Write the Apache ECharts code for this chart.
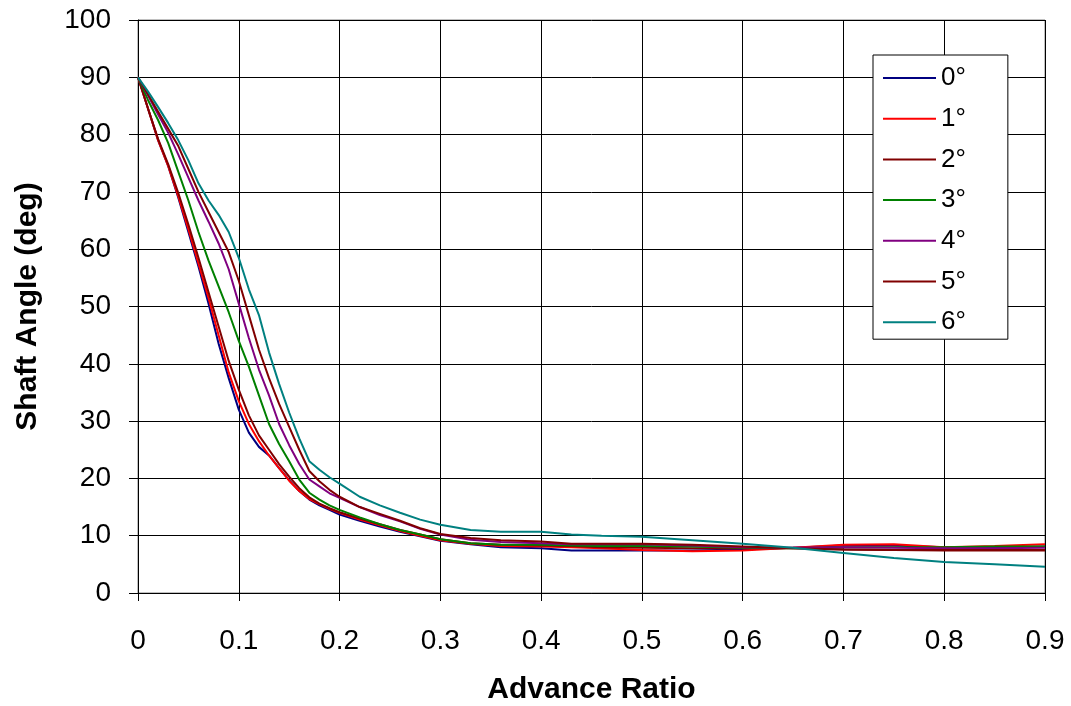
<!DOCTYPE html>
<html>
<head>
<meta charset="utf-8">
<script src="https://cdn.jsdelivr.net/npm/echarts@6/dist/echarts.min.js"></script>
<style>
  html, body { margin: 0; padding: 0; background: #fff; }
  #chart { width: 1071px; height: 706px; }
</style>
</head>
<body>
<div id="chart"></div>
<script>
// Advance ratio sample points shared by every curve
const advanceRatio = [
  0, 0.01, 0.02, 0.03, 0.04, 0.05, 0.06, 0.07, 0.08, 0.09, 0.10,
  0.11, 0.12, 0.13, 0.14, 0.15, 0.16, 0.17, 0.18, 0.19, 0.20,
  0.22, 0.24, 0.26, 0.28, 0.30, 0.33, 0.36, 0.40, 0.43, 0.46, 0.50,
  0.55, 0.60, 0.65, 0.70, 0.75, 0.80, 0.85, 0.90
];

// Shaft angle (deg) for each blade setting
const angle0 = [
  90, 84.5, 79, 74.5, 69, 63, 57, 50.5, 43.5, 37.5, 32,
  28, 25.5, 24, 21.8, 19.7, 17.8, 16.3, 15.3, 14.5, 13.7,
  12.6, 11.6, 10.7, 9.9, 9.1, 8.5, 8.0, 7.8, 7.4, 7.4, 7.4,
  7.4, 7.6, 7.9, 8.3, 8.3, 8.0, 8.0, 8.1
];
const angle1 = [
  90, 84.5, 79, 74.5, 69.2, 63.5, 57.5, 51.5, 45, 38.5, 33.5,
  29.5, 26.5, 24, 21.8, 19.6, 17.8, 16.4, 15.5, 14.7, 14.0,
  12.8, 11.8, 10.8, 10.0, 9.2, 8.6, 8.2, 8.1, 8.0, 7.8, 7.5,
  7.3, 7.4, 7.9, 8.4, 8.5, 8.0, 8.2, 8.5
];
const angle2 = [
  90, 84.5, 79.2, 74.8, 69.8, 64.3, 58.5, 52.5, 46.5, 40.5, 35.5,
  31, 27.5, 25, 22.5, 20.3, 18.3, 16.7, 15.6, 14.8, 14.1,
  13.0, 12.0, 11.0, 10.2, 9.4, 8.7, 8.4, 8.3, 8.2, 8.0, 7.9,
  7.8, 7.8, 7.8, 7.6, 7.5, 7.4, 7.4, 7.4
];
const angle3 = [
  90, 86, 82.5, 78.5, 73.5, 68.5, 63, 58, 53.5, 49, 44,
  39.5, 34.5, 29.5, 26, 23, 19.8, 17.5, 16.3, 15.3, 14.5,
  13.2, 12.0, 11.0, 10.2, 9.4, 8.7, 8.4, 8.4, 8.3, 8.2, 8.2,
  8.1, 7.9, 7.8, 8.0, 8.0, 8.0, 8.1, 8.1
];
const angle4 = [
  90, 86.8, 83.5, 80.3, 76.5, 72.5, 68.5, 64.8, 61, 56.5, 50.5,
  44.5, 39, 34.5, 29.5, 25.8, 22.5, 19.8, 18.6, 17.4, 16.6,
  15.0, 13.6, 12.5, 11.2, 10.2, 9.3, 8.9, 8.7, 8.5, 8.5, 8.5,
  8.3, 8.0, 7.9, 8.0, 7.9, 7.8, 7.8, 7.9
];
const angle5 = [
  90, 87, 84, 81, 78, 74, 70, 66.5, 63, 59.5, 54.5,
  48.5, 42.5, 37.5, 33, 29, 25, 21.3, 19.5, 18, 16.8,
  15.0, 13.8, 12.6, 11.3, 10.3, 9.6, 9.2, 9.0, 8.6, 8.6, 8.6,
  8.4, 8.1, 7.8, 7.6, 7.5, 7.5, 7.5, 7.5
];
const angle6 = [
  90, 87.5, 84.8, 82, 79, 75.5, 71.5, 68.5, 66, 63, 58.5,
  53, 48.5, 42, 36.5, 31.5, 27, 23, 21.5, 20.2, 19.1,
  16.8, 15.3, 14.0, 12.8, 11.9, 11.0, 10.7, 10.7, 10.2, 10.0, 9.8,
  9.2, 8.6, 7.9, 7.0, 6.1, 5.4, 5.0, 4.6
];

const seriesNames = ['0°', '1°', '2°', '3°', '4°', '5°', '6°'];
const seriesValues = [angle0, angle1, angle2, angle3, angle4, angle5, angle6];
const seriesColors = ['#000080', '#FF0000', '#800000', '#008000', '#800080', '#800000', '#008080'];

const xTickLabels = ['0', '0.1', '0.2', '0.3', '0.4', '0.5', '0.6', '0.7', '0.8', '0.9'];

const FONT = '"Liberation Sans", Arial, sans-serif';

const chart = echarts.init(document.getElementById('chart'), null, { renderer: 'canvas' });

chart.setOption({
  animation: false,
  backgroundColor: '#ffffff',
  textStyle: { fontFamily: FONT, color: '#000' },
  grid: {
    left: 138, right: 26, top: 20, bottom: 113,
    outerBoundsMode: 'none',
    containLabel: false,
    show: true, borderColor: '#808080', borderWidth: 1, backgroundColor: '#ffffff'
  },
  legend: {
    orient: 'vertical',
    left: 873, top: 55,
    data: seriesNames,
    icon: 'rect',
    itemWidth: 53, itemHeight: 2, itemGap: 12.7,
    padding: [9, 42, 3, 10],
    backgroundColor: '#ffffff',
    borderColor: '#000000', borderWidth: 1,
    textStyle: { fontFamily: FONT, fontSize: 26, color: '#000', lineHeight: 28 }
  },
  xAxis: {
    type: 'value',
    min: 0, max: 0.9, interval: 0.1,
    name: 'Advance Ratio',
    nameLocation: 'middle', nameGap: 82,
    nameTextStyle: { fontFamily: FONT, fontSize: 30, fontWeight: 'bold', color: '#000' },
    axisLine: { show: true, lineStyle: { color: '#000', width: 1 } },
    axisTick: { show: true, inside: false, length: 8, lineStyle: { color: '#000' } },
    axisLabel: {
      margin: 34, fontFamily: FONT, fontSize: 28, color: '#000',
      formatter: (v) => xTickLabels[Math.round(v * 10)]
    },
    splitLine: { show: true, lineStyle: { color: '#000', width: 1 } }
  },
  yAxis: {
    type: 'value',
    min: 0, max: 100, interval: 10,
    name: 'Shaft Angle (deg)',
    nameLocation: 'middle', nameGap: 95, nameRotate: 90,
    nameTextStyle: { fontFamily: FONT, fontSize: 30, fontWeight: 'bold', color: '#000' },
    axisLine: { show: true, lineStyle: { color: '#000', width: 1 } },
    axisTick: { show: true, inside: false, length: 9, lineStyle: { color: '#000' } },
    axisLabel: { margin: 27, fontFamily: FONT, fontSize: 28, color: '#000' },
    splitLine: { show: true, lineStyle: { color: '#000', width: 1 } }
  },
  series: seriesNames.map((name, i) => ({
    name: name,
    type: 'line',
    symbol: 'none',
    showSymbol: false,
    smooth: false,
    clip: true,
    lineStyle: { color: seriesColors[i], width: 2 },
    itemStyle: { color: seriesColors[i] },
    data: advanceRatio.map((x, k) => [x, seriesValues[i][k]])
  }))
});
</script>
</body>
</html>
